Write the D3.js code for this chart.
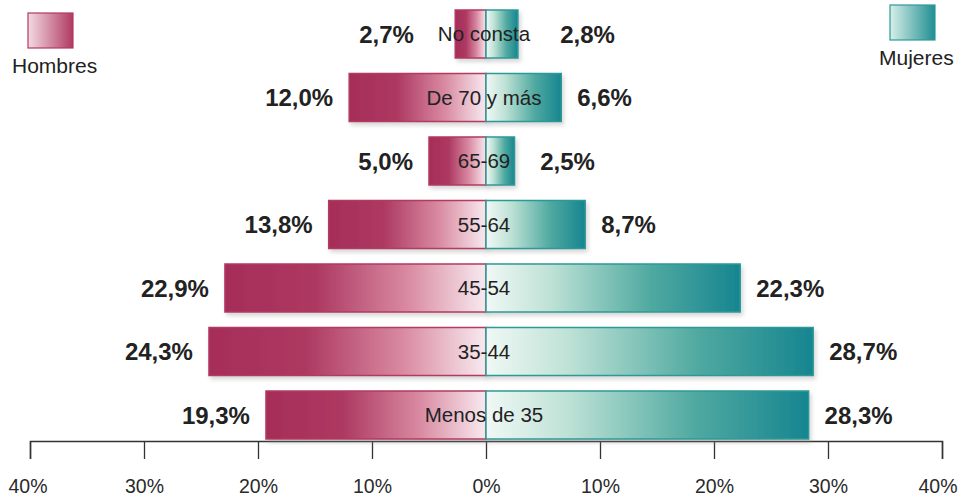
<!DOCTYPE html>
<html>
<head>
<meta charset="utf-8">
<script src="https://cdn.jsdelivr.net/npm/d3@7"></script>
<style>
  html, body { margin: 0; padding: 0; background: #ffffff; }
  svg { display: block; font-family: "Liberation Sans", Arial, Helvetica, sans-serif; }
</style>
</head>
<body>
<svg id="chart" width="961" height="497"></svg>
<script>
const categories = ["No consta", "De 70 y más", "65-69", "55-64", "45-54", "35-44", "Menos de 35"];
const hombres = [2.7, 12.0, 5.0, 13.8, 22.9, 24.3, 19.3];
const mujeres = [2.8, 6.6, 2.5, 8.7, 22.3, 28.7, 28.3];
const tickValues = [-40, -30, -20, -10, 0, 10, 20, 30, 40];
const legendLabels = ["Hombres", "Mujeres"];

const fmt = v => v.toFixed(1).replace(".", ",") + "%";

const svg = d3.select("#chart");
const x = d3.scaleLinear().domain([-40, 40]).range([30, 942]);
const y = d3.scaleBand().domain(categories).range([10, 439]).paddingInner(0.244).paddingOuter(0);
const axisY = 441;
const cx = 484;

const defs = svg.append("defs");
const gm = defs.append("linearGradient").attr("id", "gMen").attr("x1", 0).attr("x2", 1).attr("y1", 0).attr("y2", 0);
[[0, "#a52d58"], [0.35, "#ad3962"], [0.7, "#d98aa2"], [1, "#f8eaef"]].forEach(([o, c]) => gm.append("stop").attr("offset", o).attr("stop-color", c));
const gw = defs.append("linearGradient").attr("id", "gWomen").attr("x1", 0).attr("x2", 1).attr("y1", 0).attr("y2", 0);
[[0, "#f0f8f5"], [0.25, "#bfe2d6"], [0.65, "#4fa9a0"], [1, "#168590"]].forEach(([o, c]) => gw.append("stop").attr("offset", o).attr("stop-color", c));
const lm = defs.append("linearGradient").attr("id", "lMen").attr("x1", 0).attr("x2", 1);
[[0, "#f3dbe3"], [1, "#b03a62"]].forEach(([o, c]) => lm.append("stop").attr("offset", o).attr("stop-color", c));
const lw = defs.append("linearGradient").attr("id", "lWomen").attr("x1", 0).attr("x2", 1);
[[0, "#d8efe8"], [1, "#1f8e92"]].forEach(([o, c]) => lw.append("stop").attr("offset", o).attr("stop-color", c));
const f = defs.append("filter").attr("id", "shadow").attr("x", "-10%").attr("y", "-20%").attr("width", "130%").attr("height", "150%");
f.append("feDropShadow").attr("dx", 2).attr("dy", 3).attr("stdDeviation", 2).attr("flood-color", "#888").attr("flood-opacity", 0.35);

// Axis
const axis = d3.axisBottom(x).tickValues(tickValues).tickSize(18).tickPadding(20)
  .tickFormat(d => Math.abs(d) + "%");
const ag = svg.append("g").attr("transform", `translate(0,${axisY})`).call(axis);
ag.select(".domain").attr("stroke", "#333").attr("stroke-width", 1.5);
ag.selectAll(".tick line").attr("stroke", "#333").attr("stroke-width", 1.3);
ag.selectAll(".tick text").attr("fill", "#2a2a2a").attr("font-size", 19.5)
  .attr("font-family", "'Liberation Sans', Arial, sans-serif");
ag.selectAll(".tick text").filter(d => d === 40).attr("text-anchor", "end").attr("x", 15);
ag.selectAll(".tick text").filter(d => d === -40).attr("text-anchor", "start").attr("x", -22);

// Bars
const rows = categories.map((c, i) => ({ c, h: hombres[i], m: mujeres[i] }));
const g = svg.append("g");
g.selectAll("rect.men").data(rows).join("rect").attr("class", "men")
  .attr("x", d => x(-d.h)).attr("y", d => y(d.c))
  .attr("width", d => x(0) - x(-d.h)).attr("height", y.bandwidth())
  .attr("fill", "url(#gMen)").attr("stroke", "#b23a62").attr("stroke-width", 1.5)
  .attr("filter", "url(#shadow)");
g.selectAll("rect.women").data(rows).join("rect").attr("class", "women")
  .attr("x", x(0)).attr("y", d => y(d.c))
  .attr("width", d => x(d.m) - x(0)).attr("height", y.bandwidth())
  .attr("fill", "url(#gWomen)").attr("stroke", "#2c9a98").attr("stroke-width", 1.5)
  .attr("filter", "url(#shadow)");

// Category labels
const cat = g.selectAll("text.cat").data(rows).join("text").attr("class", "cat")
  .attr("x", cx).attr("y", d => y(d.c) + y.bandwidth() / 2).attr("dy", "0.36em")
  .attr("text-anchor", "middle").attr("font-size", 20.5).attr("fill", "#222")
  .text(d => d.c);
const halfW = [];
cat.each(function () { halfW.push(this.getComputedTextLength() / 2); });

// Value labels
g.selectAll("text.vm").data(rows).join("text").attr("class", "vm")
  .attr("x", (d, i) => Math.min(x(-d.h), cx - halfW[i] - 8) - 16)
  .attr("y", d => y(d.c) + y.bandwidth() / 2).attr("dy", "0.36em")
  .attr("text-anchor", "end").attr("font-size", 24).attr("font-weight", "bold").attr("fill", "#222")
  .text(d => fmt(d.h));
g.selectAll("text.vw").data(rows).join("text").attr("class", "vw")
  .attr("x", (d, i) => Math.max(x(d.m), cx + halfW[i] + 14) + 16)
  .attr("y", d => y(d.c) + y.bandwidth() / 2).attr("dy", "0.36em")
  .attr("text-anchor", "start").attr("font-size", 24).attr("font-weight", "bold").attr("fill", "#222")
  .text(d => fmt(d.m));

// Legend
svg.append("rect").attr("x", 28).attr("y", 13).attr("width", 45).attr("height", 35)
  .attr("fill", "url(#lMen)").attr("stroke", "#b23a62").attr("stroke-width", 1.2);
svg.append("text").attr("x", 12).attr("y", 73).attr("font-size", 21).attr("fill", "#222").text(legendLabels[0]);
svg.append("rect").attr("x", 890).attr("y", 5).attr("width", 45).attr("height", 35)
  .attr("fill", "url(#lWomen)").attr("stroke", "#2c9a98").attr("stroke-width", 1.2);
svg.append("text").attr("x", 879).attr("y", 65).attr("font-size", 21).attr("fill", "#222").text(legendLabels[1]);
</script>
</body>
</html>
